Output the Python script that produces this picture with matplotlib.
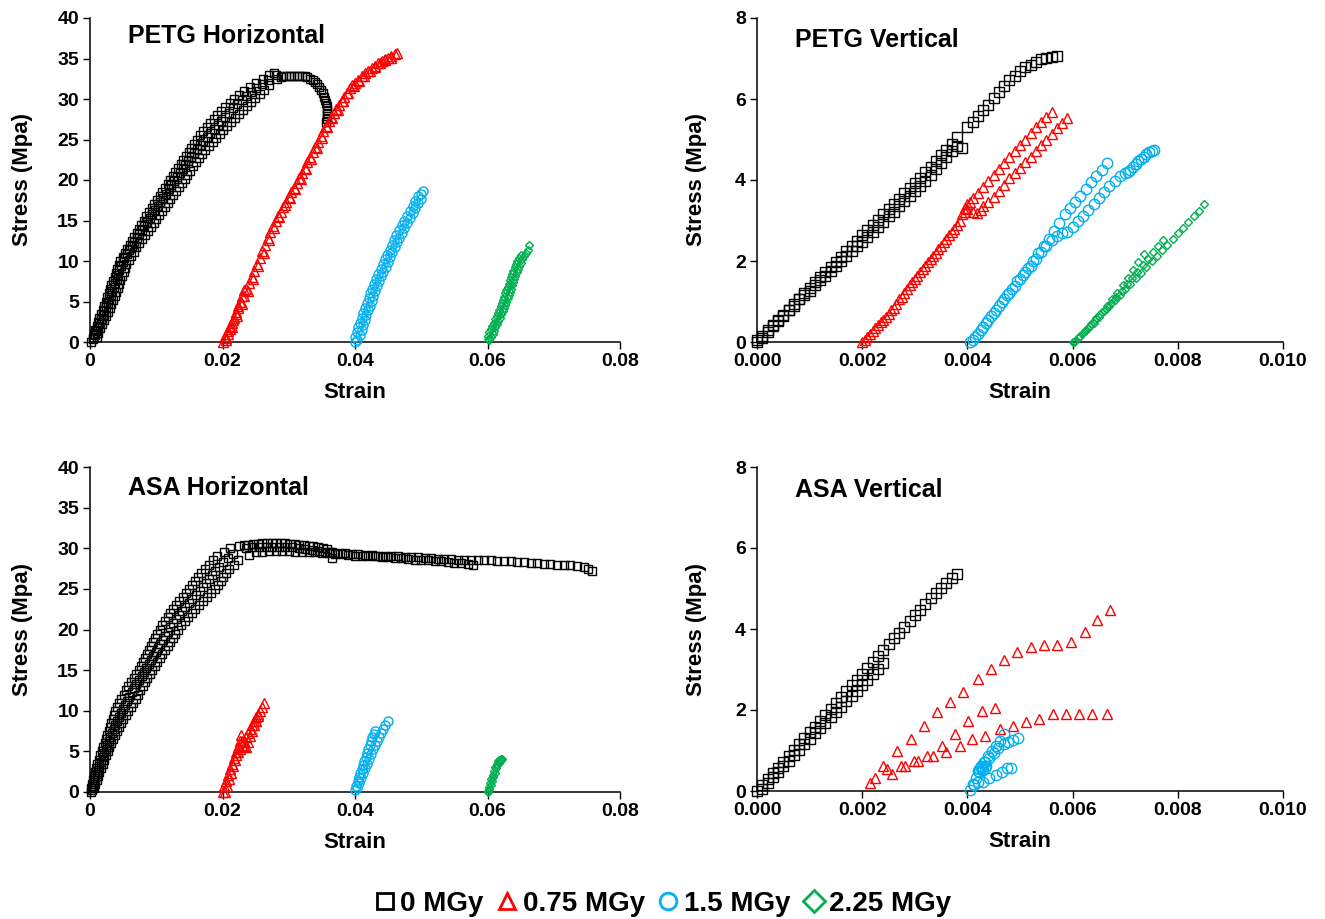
import matplotlib
matplotlib.use("Agg")
import matplotlib.pyplot as plt
from matplotlib.lines import Line2D

plt.rcParams['font.family'] = ['Liberation Sans', 'DejaVu Sans']

# ---------------- colours / legend labels ----------------
DOSE_LABELS = ['0 MGy', '0.75 MGy', '1.5 MGy', '2.25 MGy']
COLORS = ['#000000', '#FF0000', '#00B0F0', '#00B050']
MARKERS = ['s', '^', 'o', 'D']

# ================= PETG Horizontal =================
# 0 MGy (overlapping specimens / readings)
PH0A_X = [0.0002, 0.0006, 0.0010, 0.0014, 0.0019, 0.0024, 0.0028, 0.0032, 0.0037, 0.0041, 0.0046, 0.0053,
          0.0060, 0.0067, 0.0074, 0.0081, 0.0089, 0.0097, 0.0105, 0.0113, 0.0121, 0.0129, 0.0137, 0.0145,
          0.0153, 0.0162, 0.0171, 0.0181, 0.0192, 0.0204, 0.0218, 0.0233, 0.0251, 0.0270, 0.0277]
PH0A_Y = [0, 1, 2, 3, 4, 5, 6, 7, 8, 9, 10, 11,
          12, 13, 14, 15, 16, 17, 18, 19, 20, 21, 22, 23,
          24, 25, 26, 27, 28, 29, 30, 31, 32, 33, 33.2]
PH0A2_X = [0.0004, 0.0008, 0.0012, 0.00165, 0.00215, 0.0026, 0.0030, 0.00345, 0.0039, 0.00435, 0.00495,
           0.00565, 0.00635, 0.00705, 0.00775, 0.0085, 0.0093, 0.0101, 0.0109, 0.0117, 0.0125, 0.0133,
           0.0141, 0.0149, 0.01575, 0.01665, 0.0176, 0.01865, 0.0198, 0.0211, 0.02255, 0.0242, 0.02605]
PH0A2_Y = [0.5, 1.5, 2.5, 3.5, 4.5, 5.5, 6.5, 7.5, 8.5, 9.5, 10.5,
           11.5, 12.5, 13.5, 14.5, 15.5, 16.5, 17.5, 18.5, 19.5, 20.5, 21.5,
           22.5, 23.5, 24.5, 25.5, 26.5, 27.5, 28.5, 29.5, 30.5, 31.5, 32.5]
PH0M_X = [0.0005, 0.0009, 0.0014, 0.0019, 0.0024, 0.0029, 0.0033, 0.0038, 0.0042, 0.0047, 0.0052, 0.0059,
          0.0067, 0.0074, 0.0082, 0.0090, 0.0098, 0.0106, 0.0115, 0.0123, 0.0132, 0.0140, 0.0148, 0.0157,
          0.0166, 0.0176, 0.0187, 0.0198, 0.0210, 0.0222, 0.0236, 0.0251, 0.0268, 0.0280]
PH0M_Y = [0.33, 1.33, 2.33, 3.33, 4.33, 5.33, 6.33, 7.33, 8.33, 9.33, 10.33, 11.33,
          12.33, 13.33, 14.33, 15.33, 16.33, 17.33, 18.33, 19.33, 20.33, 21.33, 22.33, 23.33,
          24.33, 25.33, 26.33, 27.33, 28.33, 29.33, 30.33, 31.33, 32.33, 33.0]
PH0M2_X = [0.0007, 0.00115, 0.00165, 0.00215, 0.00265, 0.0031, 0.00355, 0.0040, 0.00445, 0.00495, 0.00555,
           0.0063, 0.00705, 0.0078, 0.0086, 0.0094, 0.0102, 0.01105, 0.0119, 0.01275, 0.0136, 0.0144,
           0.01525, 0.01615, 0.0171, 0.01815, 0.01925, 0.0204, 0.0216, 0.0229, 0.02435, 0.02595]
PH0M2_Y = [0.83, 1.83, 2.83, 3.83, 4.83, 5.83, 6.83, 7.83, 8.83, 9.83, 10.83,
           11.83, 12.83, 13.83, 14.83, 15.83, 16.83, 17.83, 18.83, 19.83, 20.83, 21.83,
           22.83, 23.83, 24.83, 25.83, 26.83, 27.83, 28.83, 29.83, 30.83, 31.83]
PH0B_X = [0.0010, 0.0015, 0.0021, 0.0027, 0.0032, 0.0037, 0.0042, 0.0046, 0.0051, 0.0055, 0.0062, 0.0070,
          0.0079, 0.0087, 0.0096, 0.0104, 0.0113, 0.0121, 0.0130, 0.0139, 0.0147, 0.0156, 0.0165, 0.0174,
          0.0185, 0.0196, 0.0207, 0.0219, 0.0231, 0.0243, 0.0256, 0.0270, 0.0283,
          0.0288, 0.0292, 0.0296, 0.0300, 0.0304, 0.0308, 0.0312, 0.0316, 0.0320, 0.0324, 0.0328, 0.0332,
          0.0336, 0.0340, 0.0343, 0.0346, 0.0349, 0.0351, 0.0353, 0.0355, 0.0356, 0.0357, 0.0358, 0.0358,
          0.0358, 0.0357, 0.0356]
PH0B_Y = [0.67, 1.67, 2.67, 3.67, 4.67, 5.67, 6.67, 7.67, 8.67, 9.67, 10.67, 11.67,
          12.67, 13.67, 14.67, 15.67, 16.67, 17.67, 18.67, 19.67, 20.67, 21.67, 22.67, 23.67,
          24.67, 25.67, 26.67, 27.67, 28.67, 29.67, 30.67, 31.67, 32.5,
          32.7, 32.8, 32.8, 32.9, 32.9, 32.9, 32.9, 32.9, 32.8, 32.8, 32.7, 32.5,
          32.3, 32.1, 31.8, 31.5, 31.1, 30.7, 30.3, 29.9, 29.5, 29.1, 28.7, 28.3,
          27.9, 27.5, 27.1]
PH0B2_X = [0.00125, 0.0018, 0.0024, 0.00295, 0.00345, 0.00395, 0.0044, 0.00485, 0.0053, 0.00585, 0.0066,
           0.00745, 0.0083, 0.00915, 0.0100, 0.01085, 0.0117, 0.01255, 0.01345, 0.0143, 0.01515, 0.01605,
           0.01695, 0.01795, 0.01905, 0.02015, 0.0213, 0.0225, 0.0237, 0.02495, 0.0263]
PH0B2_Y = [1.17, 2.17, 3.17, 4.17, 5.17, 6.17, 7.17, 8.17, 9.17, 10.17, 11.17,
           12.17, 13.17, 14.17, 15.17, 16.17, 17.17, 18.17, 19.17, 20.17, 21.17, 22.17,
           23.17, 24.17, 25.17, 26.17, 27.17, 28.17, 29.17, 30.17, 31.17]
# 0.75 MGy
PH1A_X = [0.0200, 0.0204, 0.0208, 0.0212, 0.0216, 0.0220, 0.0224, 0.0228, 0.0232, 0.0236, 0.0240, 0.0244,
          0.0248, 0.0252, 0.0256, 0.0260, 0.0264, 0.0268, 0.0272, 0.0276, 0.0280, 0.0284, 0.0288, 0.0292,
          0.0296, 0.0300, 0.0304, 0.0308, 0.0312, 0.0316, 0.0320, 0.0324, 0.0328, 0.0332, 0.0336, 0.0340,
          0.0344, 0.0348, 0.0352, 0.0356, 0.0360, 0.0364, 0.0368, 0.0372, 0.0376, 0.0380, 0.0384, 0.0388,
          0.0392, 0.0396, 0.0400, 0.0405, 0.0410, 0.0415, 0.0420, 0.0425, 0.0430, 0.0435, 0.0440, 0.0445,
          0.0450, 0.0455, 0.0460, 0.0464]
PH1A_Y = [0.0, 0.7, 1.4, 2.0, 2.7, 3.4, 4.2, 4.9, 5.7, 6.5, 7.3, 8.0,
          8.8, 9.6, 10.4, 11.2, 12.0, 12.8, 13.6, 14.3, 14.9, 15.5, 16.1, 16.7,
          17.3, 17.9, 18.5, 19.0, 19.6, 20.2, 20.9, 21.5, 22.2, 22.8, 23.4, 24.1,
          24.7, 25.4, 26.0, 26.7, 27.3, 27.8, 28.3, 28.8, 29.3, 29.8, 30.3, 30.8,
          31.3, 31.7, 32.0, 32.4, 32.8, 33.2, 33.5, 33.8, 34.1, 34.4, 34.7, 34.9,
          35.1, 35.3, 35.5, 35.7]
PH1B_X = [0.0206, 0.0214, 0.0222, 0.0230, 0.0238, 0.0246, 0.0254, 0.0262, 0.0270, 0.0278, 0.0286, 0.0294,
          0.0302, 0.0310, 0.0318, 0.0326, 0.0334, 0.0342, 0.0350, 0.0358, 0.0366, 0.0374, 0.0382, 0.0390,
          0.0398, 0.0406, 0.0414, 0.0422, 0.0430, 0.0438, 0.0446, 0.0454]
PH1B_Y = [0.5, 1.8, 3.2, 4.7, 6.3, 7.8, 9.4, 11.0, 12.6, 14.1, 15.4, 16.9,
          17.8, 18.9, 20.1, 21.3, 22.6, 23.9, 25.2, 26.5, 27.7, 28.7, 29.7, 30.7,
          31.6, 32.2, 32.9, 33.5, 33.9, 34.4, 34.8, 35.1]
PH1C_X = [0.0206, 0.0209, 0.0212, 0.0215, 0.0218, 0.0221, 0.0224, 0.0227, 0.0230, 0.0233]
PH1C_Y = [0.3, 1.0, 1.6, 2.3, 3.0, 3.7, 4.4, 5.0, 5.7, 6.4]
# 1.5 MGy
PH2A_X = [0.04000, 0.04026, 0.04052, 0.04076, 0.04100, 0.04124, 0.04149, 0.04177, 0.04205, 0.04232, 0.04261,
          0.04289, 0.04318, 0.04351, 0.04385, 0.04418, 0.04452, 0.04486, 0.04521, 0.04556, 0.04591, 0.04625,
          0.04660, 0.04703, 0.04746, 0.04789, 0.04830, 0.04870, 0.04910, 0.04950]
PH2A_Y = [0.6, 1.2, 1.8, 2.4, 3.0, 3.6, 4.2, 4.8, 5.4, 6.0, 6.6,
          7.2, 7.8, 8.4, 9.0, 9.6, 10.2, 10.8, 11.4, 12.0, 12.6, 13.2,
          13.8, 14.4, 15.0, 15.6, 16.2, 16.8, 17.4, 18.0]
PH2B_X = [0.0400, 0.0403, 0.04072, 0.04100, 0.04124, 0.04148, 0.04172, 0.04196, 0.04223, 0.04251, 0.04279,
          0.04307, 0.04335, 0.04363, 0.04395, 0.04428, 0.04461, 0.04494, 0.04529, 0.04564, 0.04598, 0.04633,
          0.04668, 0.04703, 0.04741, 0.04784, 0.04827, 0.04870, 0.04910, 0.04950, 0.04990, 0.0500, 0.0503]
PH2B_Y = [0.0, 0.3, 0.9, 1.5, 2.1, 2.7, 3.3, 3.9, 4.5, 5.1, 5.7,
          6.3, 6.9, 7.5, 8.1, 8.7, 9.3, 9.9, 10.5, 11.1, 11.7, 12.3,
          12.9, 13.5, 14.1, 14.7, 15.3, 15.9, 16.5, 17.1, 17.7, 18.3, 18.6]
# 2.25 MGy
PH3A_X = [0.0600, 0.0601, 0.0603, 0.0605, 0.0607, 0.06092, 0.06114, 0.06136, 0.06158, 0.0618, 0.06198,
          0.06216, 0.06234, 0.06252, 0.0627, 0.06286, 0.06302, 0.06318, 0.06334, 0.0635, 0.0637, 0.0639,
          0.0641, 0.0643, 0.0645, 0.06478, 0.06506]
PH3A_Y = [0.4, 0.8, 1.2, 1.6, 2.0, 2.4, 2.8, 3.2, 3.6, 4.0, 4.4,
          4.8, 5.2, 5.6, 6.0, 6.4, 6.8, 7.2, 7.6, 8.0, 8.4, 8.8,
          9.2, 9.6, 10.0, 10.4, 10.8]
PH3B_X = [0.0602, 0.0606, 0.0608, 0.0610, 0.0612, 0.06141, 0.06163, 0.06185, 0.06207, 0.06229, 0.06249,
          0.06267, 0.06285, 0.06303, 0.06321, 0.06338, 0.06354, 0.0637, 0.06386, 0.06402, 0.0642, 0.0644,
          0.0646, 0.0648, 0.0650, 0.06524, 0.06552, 0.0658, 0.06608, 0.0662]
PH3B_Y = [0.2, 0.6, 1.0, 1.4, 1.8, 2.2, 2.6, 3.0, 3.4, 3.8, 4.2,
          4.6, 5.0, 5.4, 5.8, 6.2, 6.6, 7.0, 7.4, 7.8, 8.2, 8.6,
          9.0, 9.4, 9.8, 10.2, 10.6, 11.0, 11.4, 12.0]

# ================= PETG Vertical =================
PV0A_X = [0.0000, 0.0001, 0.0002, 0.0003, 0.0004, 0.0005, 0.0006, 0.0007, 0.0008, 0.0009, 0.0010, 0.0011,
          0.0012, 0.0013, 0.0014, 0.0015, 0.0016, 0.0017, 0.0018, 0.0019, 0.0020, 0.0021, 0.0022, 0.0023,
          0.0024, 0.0025, 0.0026, 0.0027, 0.0028, 0.0029, 0.0030, 0.0031, 0.0032, 0.0033, 0.0034, 0.0035,
          0.0036, 0.0037, 0.0038, 0.0039]
PV0A_Y = [0.05, 0.15, 0.30, 0.42, 0.55, 0.65, 0.80, 0.90, 1.05, 1.15, 1.25, 1.40,
          1.52, 1.62, 1.75, 1.88, 2.00, 2.12, 2.25, 2.38, 2.48, 2.60, 2.72, 2.85,
          2.97, 3.10, 3.22, 3.35, 3.47, 3.60, 3.72, 3.85, 3.98, 4.12, 4.26, 4.42,
          4.58, 4.72, 4.83, 4.80]
PV0B_X = [0.0000, 0.0001, 0.0002, 0.0003, 0.0004, 0.0005, 0.0006, 0.0007, 0.0008, 0.0009, 0.0010, 0.0011,
          0.0012, 0.0013, 0.0014, 0.0015, 0.0016, 0.0017, 0.0018, 0.0019, 0.0020, 0.0021, 0.0022, 0.0023,
          0.0024, 0.0025, 0.0026, 0.0027, 0.0028, 0.0029, 0.0030, 0.0031, 0.0032, 0.0033, 0.0034, 0.0035,
          0.0036, 0.0037, 0.0038, 0.0040, 0.0041, 0.0042, 0.0043, 0.0044, 0.0045, 0.0046, 0.0047, 0.0048,
          0.0049, 0.0050, 0.0051, 0.0052, 0.0053, 0.0054, 0.0055, 0.0056, 0.0057]
PV0B_Y = [0.00, 0.10, 0.25, 0.40, 0.52, 0.66, 0.80, 0.93, 1.07, 1.20, 1.34, 1.47,
          1.60, 1.72, 1.85, 1.98, 2.11, 2.24, 2.37, 2.50, 2.63, 2.76, 2.89, 3.02,
          3.15, 3.28, 3.41, 3.54, 3.67, 3.80, 3.93, 4.06, 4.19, 4.33, 4.47, 4.61,
          4.75, 4.90, 5.05, 5.31, 5.44, 5.58, 5.72, 5.86, 6.02, 6.17, 6.33, 6.46,
          6.58, 6.68, 6.78, 6.85, 6.92, 6.98, 7.02, 7.04, 7.05]
PV1A_X = [0.00200, 0.00210, 0.00220, 0.00230, 0.00240, 0.00250, 0.00260, 0.00270, 0.00280, 0.00290,
          0.00300, 0.00310, 0.00320, 0.00330, 0.00340, 0.00350, 0.00360, 0.00370, 0.00380, 0.00390,
          0.00395, 0.00400, 0.00405, 0.00410, 0.00420, 0.00430, 0.00440, 0.00450, 0.00460, 0.00470,
          0.00480, 0.00490, 0.00500, 0.00510, 0.00520, 0.00530, 0.00540, 0.00550, 0.00560]
PV1A_Y = [0.00, 0.12, 0.28, 0.42, 0.55, 0.68, 0.85, 1.05, 1.22, 1.40,
          1.55, 1.72, 1.88, 2.05, 2.20, 2.38, 2.55, 2.72, 2.90, 3.15,
          3.30, 3.40, 3.45, 3.55, 3.68, 3.82, 3.98, 4.12, 4.27, 4.42,
          4.56, 4.72, 4.86, 5.00, 5.15, 5.30, 5.43, 5.55, 5.68]
PV1B_X = [0.00205, 0.00215, 0.00225, 0.00235, 0.00245, 0.00255, 0.00265, 0.00275, 0.00285, 0.00295,
          0.00305, 0.00315, 0.00325, 0.00335, 0.00345, 0.00355, 0.00365, 0.00375, 0.00385, 0.00395,
          0.00400, 0.00410, 0.00418, 0.00425, 0.00430, 0.00440, 0.00450, 0.00460, 0.00470, 0.00480,
          0.00490, 0.00500, 0.00510, 0.00520, 0.00530, 0.00540, 0.00550, 0.00560, 0.00570, 0.00580,
          0.00590]
PV1B_Y = [0.05, 0.20, 0.35, 0.50, 0.62, 0.78, 0.95, 1.12, 1.30, 1.48,
          1.64, 1.80, 1.97, 2.12, 2.30, 2.47, 2.63, 2.80, 2.98, 3.20,
          3.28, 3.22, 3.18, 3.25, 3.35, 3.45, 3.58, 3.72, 3.88, 4.04,
          4.18, 4.30, 4.44, 4.58, 4.72, 4.86, 5.00, 5.14, 5.28, 5.40,
          5.53]
PV2A_X = [0.00405, 0.00415, 0.00425, 0.00435, 0.00445, 0.00455, 0.00465, 0.00475, 0.00485, 0.00495,
          0.00505, 0.00515, 0.00525, 0.00535, 0.00545, 0.00555, 0.00565, 0.00575, 0.00585, 0.00595,
          0.00605, 0.00615, 0.00625, 0.00635, 0.00645, 0.00655, 0.00665]
PV2A_Y = [0.00, 0.12, 0.30, 0.48, 0.65, 0.80, 0.98, 1.15, 1.32, 1.50,
          1.65, 1.82, 2.00, 2.20, 2.38, 2.55, 2.75, 2.95, 3.15, 3.32,
          3.45, 3.60, 3.78, 3.95, 4.10, 4.25, 4.42]
PV2B_X = [0.00410, 0.00420, 0.00430, 0.00440, 0.00450, 0.00460, 0.00470, 0.00480, 0.00490, 0.00500,
          0.00510, 0.00520, 0.00530, 0.00540, 0.00550, 0.00560, 0.00570, 0.00580, 0.00590, 0.00600,
          0.00610, 0.00620, 0.00630, 0.00640, 0.00650, 0.00660, 0.00670, 0.00680, 0.00690, 0.00700,
          0.00705, 0.00710, 0.00715, 0.00720, 0.00725, 0.00730, 0.00735, 0.00740, 0.00745, 0.00750,
          0.00754]
PV2B_Y = [0.05, 0.20, 0.38, 0.55, 0.72, 0.88, 1.05, 1.22, 1.38, 1.55,
          1.72, 1.88, 2.05, 2.22, 2.38, 2.52, 2.62, 2.68, 2.72, 2.85,
          2.98, 3.10, 3.25, 3.40, 3.55, 3.70, 3.85, 3.98, 4.10, 4.17,
          4.20, 4.25, 4.32, 4.40, 4.46, 4.52, 4.58, 4.63, 4.68, 4.72,
          4.74]
PV3A_X = [0.00600, 0.00610, 0.00620, 0.00630, 0.00640, 0.00650, 0.00660, 0.00670, 0.00680, 0.00690,
          0.00700, 0.00710, 0.00720, 0.00730, 0.00740, 0.00750, 0.00760, 0.00770, 0.00780, 0.00790,
          0.00800, 0.00810, 0.00820, 0.00830, 0.00840, 0.00850]
PV3A_Y = [0.00, 0.10, 0.22, 0.35, 0.48, 0.62, 0.76, 0.90, 1.03, 1.17,
          1.30, 1.43, 1.57, 1.71, 1.85, 1.99, 2.12, 2.26, 2.40, 2.54,
          2.68, 2.82, 2.96, 3.10, 3.24, 3.40]
PV3B_X = [0.00605, 0.00615, 0.00625, 0.00635, 0.00645, 0.00655, 0.00665, 0.00675, 0.00685, 0.00695,
          0.00705, 0.00715, 0.00725, 0.00735]
PV3B_Y = [0.02, 0.15, 0.30, 0.45, 0.60, 0.75, 0.90, 1.06, 1.22, 1.40,
          1.58, 1.78, 1.98, 2.18]
PV3C_X = [0.00603, 0.00613, 0.00623, 0.00633, 0.00643, 0.00653, 0.00663, 0.00673, 0.00683, 0.00693,
          0.00703, 0.00713, 0.00723, 0.00733, 0.00743, 0.00753, 0.00763, 0.00772]
PV3C_Y = [0.00, 0.12, 0.26, 0.40, 0.54, 0.68, 0.82, 0.97, 1.12, 1.27,
          1.42, 1.58, 1.74, 1.90, 2.06, 2.22, 2.38, 2.52]

# ================= ASA Horizontal =================
AH0A_X = [0.0001, 0.0003, 0.0006, 0.0009, 0.0013, 0.0018, 0.0022, 0.0026, 0.0030, 0.0034, 0.0038, 0.0044,
          0.0051, 0.0058, 0.0066, 0.0074, 0.0080, 0.0086, 0.0092, 0.0098, 0.0105, 0.0113, 0.0121, 0.0130,
          0.0140, 0.0150, 0.0159, 0.0167, 0.0179, 0.0192, 0.0212,
          0.0225, 0.0232, 0.0239, 0.0246, 0.0253, 0.0260, 0.0267, 0.0274, 0.0281, 0.0288, 0.0295, 0.0302,
          0.0309, 0.0316, 0.0323, 0.0330, 0.0337, 0.0344, 0.0351, 0.0357, 0.0362, 0.0365]
AH0A_Y = [0, 1, 2, 3, 4, 5, 6, 7, 8, 9, 10, 11,
          12, 13, 14, 15, 16, 17, 18, 19, 20, 21, 22, 23,
          24, 25, 26, 27, 28, 29, 30,
          30.3, 30.4, 30.45, 30.5, 30.55, 30.6, 30.6, 30.65, 30.65, 30.6, 30.6, 30.55,
          30.5, 30.45, 30.4, 30.3, 30.25, 30.15, 30.0, 29.85, 29.6, 28.8]
AH0A2_X = [0.0002, 0.00045, 0.00075, 0.0011, 0.00155, 0.0020, 0.0024, 0.0028, 0.0032, 0.0036, 0.0041,
           0.00475, 0.00545, 0.0062, 0.0070, 0.0077, 0.0083, 0.0089, 0.0095, 0.01015, 0.0109, 0.0117,
           0.01255, 0.0135, 0.0145, 0.01545, 0.0163, 0.0173, 0.01855, 0.0202]
AH0A2_Y = [0.5, 1.5, 2.5, 3.5, 4.5, 5.5, 6.5, 7.5, 8.5, 9.5, 10.5,
           11.5, 12.5, 13.5, 14.5, 15.5, 16.5, 17.5, 18.5, 19.5, 20.5, 21.5,
           22.5, 23.5, 24.5, 25.5, 26.5, 27.5, 28.5, 29.5]
AH0B_X = [0.0006, 0.0010, 0.0014, 0.0019, 0.0024, 0.0029, 0.0034, 0.0040, 0.0047, 0.0054, 0.0062, 0.0069,
          0.0076, 0.0083, 0.0090, 0.0098, 0.0105, 0.0113, 0.0121, 0.0129, 0.0138, 0.0148, 0.0159, 0.0170,
          0.0183, 0.0193, 0.0201, 0.0210, 0.0224, 0.0240,
          0.0250, 0.0260, 0.0270, 0.0280, 0.0290, 0.0300, 0.0310, 0.0320, 0.0330, 0.0340, 0.0350, 0.0360,
          0.0370, 0.0380, 0.0390, 0.0400, 0.0410, 0.0420, 0.0430, 0.0440, 0.0450, 0.0460, 0.0470, 0.0480,
          0.0490, 0.0500, 0.0510, 0.0520, 0.0530, 0.0540, 0.0550, 0.0560, 0.0570, 0.0578]
AH0B_Y = [0.5, 1.5, 2.5, 3.5, 4.5, 5.5, 6.5, 7.5, 8.5, 9.5, 10.5, 11.5,
          12.5, 13.5, 14.5, 15.5, 16.5, 17.5, 18.5, 19.5, 20.5, 21.5, 22.5, 23.5,
          24.5, 25.5, 26.5, 27.5, 28.5, 29.2,
          29.5, 29.6, 29.7, 29.7, 29.7, 29.7, 29.6, 29.6, 29.5, 29.5, 29.4, 29.4,
          29.3, 29.3, 29.2, 29.1, 29.1, 29.0, 29.0, 28.9, 28.9, 28.8, 28.8, 28.7,
          28.6, 28.6, 28.5, 28.4, 28.4, 28.3, 28.2, 28.2, 28.1, 27.9]
AH0B2_X = [0.0008, 0.0012, 0.00165, 0.00215, 0.00265, 0.00315, 0.0037, 0.00435, 0.00505, 0.0058, 0.00655,
           0.00725, 0.00795, 0.00865, 0.0094, 0.01015, 0.0109, 0.0117, 0.0125, 0.01335, 0.0143, 0.01535,
           0.01645, 0.01765, 0.0188, 0.0197, 0.02055, 0.0217]
AH0B2_Y = [1, 2, 3, 4, 5, 6, 7, 8, 9, 10, 11,
           12, 13, 14, 15, 16, 17, 18, 19, 20, 21, 22,
           23, 24, 25, 26, 27, 28]
AH0C_X = [0.0003, 0.0006, 0.0010, 0.0014, 0.0019, 0.0024, 0.0028, 0.0033, 0.0038, 0.0044, 0.0050, 0.0056,
          0.0063, 0.0070, 0.0078, 0.0085, 0.0092, 0.0099, 0.0106, 0.0113, 0.0121, 0.0130, 0.0139, 0.0149,
          0.0160, 0.0171, 0.0180, 0.0189, 0.0201, 0.0216, 0.0235,
          0.0245, 0.0255, 0.0265, 0.0275, 0.0285, 0.0295, 0.0305, 0.0315, 0.0325, 0.0335, 0.0345, 0.0355,
          0.0365, 0.0375, 0.0385, 0.0395, 0.0405, 0.0415, 0.0425, 0.0435, 0.0445, 0.0455, 0.0465, 0.0475,
          0.0485, 0.0495, 0.0505, 0.0515, 0.0525, 0.0535, 0.0545, 0.0555, 0.0565, 0.0575, 0.0585, 0.0595,
          0.0605, 0.0615, 0.0625, 0.0635, 0.0645, 0.0655, 0.0665, 0.0675, 0.0685, 0.0695, 0.0705, 0.0715,
          0.0725, 0.0735, 0.0745, 0.0752, 0.0757]
AH0C_Y = [0.25, 1.25, 2.25, 3.25, 4.25, 5.25, 6.25, 7.25, 8.25, 9.25, 10.25, 11.25,
          12.25, 13.25, 14.25, 15.25, 16.25, 17.25, 18.25, 19.25, 20.25, 21.25, 22.25, 23.25,
          24.25, 25.25, 26.25, 27.25, 28.25, 29.25, 30.0,
          30.1, 30.2, 30.2, 30.2, 30.2, 30.1, 30.1, 30.0, 29.9, 29.8, 29.7, 29.6,
          29.5, 29.4, 29.4, 29.3, 29.3, 29.2, 29.2, 29.1, 29.1, 29.0, 29.0, 28.9,
          28.9, 28.9, 28.8, 28.8, 28.7, 28.7, 28.7, 28.6, 28.6, 28.6, 28.5, 28.5,
          28.5, 28.4, 28.4, 28.4, 28.3, 28.3, 28.2, 28.2, 28.1, 28.1, 28.0, 28.0,
          27.9, 27.8, 27.7, 27.5, 27.2]
AH0C2_X = [0.00045, 0.0008, 0.0012, 0.00165, 0.00215, 0.0026, 0.00305, 0.00355, 0.0041, 0.0047, 0.0053,
           0.00595, 0.00665, 0.0074, 0.00815, 0.00885, 0.00955, 0.01025, 0.01095, 0.0117, 0.01255, 0.01345,
           0.0144, 0.01545, 0.01655, 0.01755, 0.01845, 0.0195, 0.02085]
AH0C2_Y = [0.75, 1.75, 2.75, 3.75, 4.75, 5.75, 6.75, 7.75, 8.75, 9.75, 10.75,
           11.75, 12.75, 13.75, 14.75, 15.75, 16.75, 17.75, 18.75, 19.75, 20.75, 21.75,
           22.75, 23.75, 24.75, 25.75, 26.75, 27.75, 28.75]
AH1A_X = [0.0200, 0.0203, 0.0206, 0.0209, 0.0212, 0.0215, 0.0218, 0.0221, 0.0224, 0.0226, 0.0228, 0.0230,
          0.0232, 0.0235, 0.0238, 0.0241, 0.0244, 0.0247, 0.0250, 0.0253, 0.0256, 0.0259, 0.0262]
AH1A_Y = [0.0, 0.7, 1.4, 2.1, 2.8, 3.5, 4.2, 4.9, 5.6, 6.3, 7.0, 6.3,
          5.7, 5.5, 6.2, 6.9, 7.5, 8.2, 8.8, 9.4, 10.0, 10.5, 11.0]
AH1B_X = [0.0204, 0.0207, 0.0210, 0.0213, 0.0216, 0.0219, 0.0221, 0.0224, 0.0227, 0.0230, 0.0233, 0.0236,
          0.0239, 0.0242, 0.0245, 0.0248, 0.0251, 0.0254]
AH1B_Y = [0.0, 0.8, 1.6, 2.4, 3.2, 4.0, 4.6, 4.9, 5.3, 5.8, 6.3, 6.8,
          7.3, 7.8, 8.3, 8.8, 9.2, 9.6]
AH2A_X = [0.0400, 0.0402, 0.0404, 0.0406, 0.0408, 0.0410, 0.0412, 0.0414, 0.0416, 0.0418, 0.0420, 0.0422,
          0.0424, 0.0426, 0.0428, 0.0430]
AH2A_Y = [0.3, 0.8, 1.3, 1.8, 2.3, 2.8, 3.3, 3.8, 4.3, 4.8, 5.3, 5.8,
          6.3, 6.8, 7.2, 7.5]
AH2B_X = [0.0403, 0.0406, 0.0409, 0.0412, 0.0415, 0.0418, 0.0421, 0.0424, 0.0427, 0.0430, 0.0433, 0.0436,
          0.0439, 0.0442, 0.0446, 0.0450]
AH2B_Y = [0.5, 1.1, 1.7, 2.3, 2.9, 3.5, 4.1, 4.7, 5.3, 5.8, 6.3, 6.8,
          7.3, 7.8, 8.3, 8.8]
AH3A_X = [0.0600, 0.0602, 0.0604, 0.0606, 0.0608, 0.0610, 0.0612, 0.0614, 0.0616, 0.0618, 0.0620]
AH3A_Y = [0.1, 0.6, 1.1, 1.6, 2.1, 2.6, 3.1, 3.5, 3.8, 4.0, 4.1]
AH3B_X = [0.0601, 0.0603, 0.0605, 0.0607, 0.0609, 0.0611, 0.0613, 0.0615, 0.0617, 0.0619, 0.0621, 0.0622]
AH3B_Y = [0.0, 0.4, 0.9, 1.4, 1.9, 2.4, 2.9, 3.3, 3.6, 3.8, 4.0, 4.1]

# ================= ASA Vertical =================
AV0A_X = [0.0000, 0.0001, 0.0002, 0.0003, 0.0004, 0.0005, 0.0006, 0.0007, 0.0008, 0.0009, 0.0010, 0.0011,
          0.0012, 0.0013, 0.0014, 0.0015, 0.0016, 0.0017, 0.0018, 0.0019, 0.0020, 0.0021, 0.0022, 0.0023,
          0.0024, 0.0025, 0.0026, 0.0027, 0.0028, 0.0029, 0.0030, 0.0031, 0.0032, 0.0033, 0.0034, 0.0035,
          0.0036, 0.0037, 0.0038]
AV0A_Y = [0.00, 0.15, 0.30, 0.44, 0.58, 0.72, 0.87, 1.01, 1.16, 1.30, 1.45, 1.59,
          1.74, 1.88, 2.03, 2.17, 2.32, 2.46, 2.61, 2.75, 2.90, 3.04, 3.19, 3.33,
          3.48, 3.62, 3.77, 3.91, 4.06, 4.20, 4.34, 4.48, 4.62, 4.76, 4.89, 5.02,
          5.14, 5.25, 5.35]
AV0B_X = [0.0001, 0.0002, 0.0003, 0.0004, 0.0005, 0.0006, 0.0007, 0.0008, 0.0009, 0.0010, 0.0011, 0.0012,
          0.0013, 0.0014, 0.0015, 0.0016, 0.0017, 0.0018, 0.0019, 0.0020, 0.0021, 0.0022, 0.0023, 0.0024]
AV0B_Y = [0.05, 0.20, 0.35, 0.48, 0.62, 0.75, 0.88, 1.02, 1.15, 1.28, 1.42, 1.55,
          1.68, 1.82, 1.95, 2.08, 2.22, 2.35, 2.48, 2.62, 2.75, 2.88, 3.02, 3.15]
AV1A_X = [0.00215, 0.00225, 0.00239, 0.00267, 0.00292, 0.00317, 0.00342, 0.00367, 0.00392, 0.00420,
          0.00445, 0.00470, 0.00495, 0.00520, 0.00545, 0.00570, 0.00597, 0.00623, 0.00647, 0.00672]
AV1A_Y = [0.20, 0.31, 0.62, 0.99, 1.28, 1.60, 1.96, 2.19, 2.45, 2.77,
          3.01, 3.24, 3.44, 3.55, 3.60, 3.60, 3.67, 3.92, 4.22, 4.47]
AV1B_X = [0.00256, 0.00282, 0.00306, 0.00335, 0.00360, 0.00385, 0.00409, 0.00434, 0.00462, 0.00487,
          0.00512, 0.00537, 0.00563, 0.00587, 0.00612, 0.00637, 0.00665]
AV1B_Y = [0.42, 0.62, 0.75, 0.87, 0.97, 1.12, 1.28, 1.37, 1.53, 1.60,
          1.71, 1.78, 1.89, 1.89, 1.89, 1.89, 1.89]
AV1C_X = [0.00248, 0.00273, 0.00298, 0.00324, 0.00352, 0.00377, 0.00402, 0.00427, 0.00452]
AV1C_Y = [0.54, 0.62, 0.75, 0.87, 1.12, 1.41, 1.72, 1.97, 2.04]
AV2A_X = [0.00404, 0.00410, 0.00417, 0.00422, 0.00426, 0.00433, 0.00441, 0.00450, 0.00459, 0.00469,
          0.00478, 0.00487, 0.00496]
AV2A_Y = [0.03, 0.17, 0.31, 0.46, 0.58, 0.71, 0.82, 0.94, 1.05, 1.15,
          1.22, 1.27, 1.30]
AV2B_X = [0.00425, 0.00431, 0.00439, 0.00446, 0.00455, 0.00462, 0.00469]
AV2B_Y = [0.62, 0.72, 0.87, 1.00, 1.12, 1.24, 1.41]
AV2C_X = [0.00412, 0.00421, 0.00429, 0.00442, 0.00455, 0.00465, 0.00475, 0.00483]
AV2C_Y = [0.15, 0.23, 0.23, 0.31, 0.40, 0.48, 0.56, 0.58]
AV2D_X = [0.00420, 0.00423, 0.00427, 0.00430, 0.00433, 0.00436]
AV2D_Y = [0.50, 0.55, 0.60, 0.52, 0.58, 0.62]

W, H = 1325, 919
fig = plt.figure(figsize=(W / 100, H / 100), dpi=100)


def box(l, t, r, b):
    return [l / W, 1 - b / H, (r - l) / W, (b - t) / H]


ax_ph = fig.add_axes(box(90, 18, 620, 342))
ax_pv = fig.add_axes(box(757, 18, 1283, 342))
ax_ah = fig.add_axes(box(90, 467, 620, 792))
ax_av = fig.add_axes(box(757, 467, 1283, 791))


def series(ax, x, y, k, ms, mew=1.0):
    ax.plot(x, y, ls='none', marker=MARKERS[k], ms=ms, mfc='none', mec=COLORS[k],
            mew=mew, clip_on=False, zorder=3)


# PETG horizontal
for xs, ys in [(PH0A_X, PH0A_Y), (PH0A2_X, PH0A2_Y), (PH0M_X, PH0M_Y), (PH0M2_X, PH0M2_Y),
               (PH0B_X, PH0B_Y), (PH0B2_X, PH0B2_Y)]:
    series(ax_ph, xs, ys, 0, 6)
for xs, ys in [(PH1A_X, PH1A_Y), (PH1B_X, PH1B_Y), (PH1C_X, PH1C_Y)]:
    series(ax_ph, xs, ys, 1, 6.5)
for xs, ys in [(PH2A_X, PH2A_Y), (PH2B_X, PH2B_Y)]:
    series(ax_ph, xs, ys, 2, 6.5)
for xs, ys in [(PH3A_X, PH3A_Y), (PH3B_X, PH3B_Y)]:
    series(ax_ph, xs, ys, 3, 4.2)

# PETG vertical
for xs, ys in [(PV0A_X, PV0A_Y), (PV0B_X, PV0B_Y)]:
    series(ax_pv, xs, ys, 0, 7.5)
for xs, ys in [(PV1A_X, PV1A_Y), (PV1B_X, PV1B_Y)]:
    series(ax_pv, xs, ys, 1, 7.5)
for xs, ys in [(PV2A_X, PV2A_Y), (PV2B_X, PV2B_Y)]:
    series(ax_pv, xs, ys, 2, 7.5)
for xs, ys in [(PV3A_X, PV3A_Y), (PV3B_X, PV3B_Y), (PV3C_X, PV3C_Y)]:
    series(ax_pv, xs, ys, 3, 4.5)

# ASA horizontal
for xs, ys in [(AH0A_X, AH0A_Y), (AH0A2_X, AH0A2_Y), (AH0B_X, AH0B_Y), (AH0B2_X, AH0B2_Y),
               (AH0C_X, AH0C_Y), (AH0C2_X, AH0C2_Y)]:
    series(ax_ah, xs, ys, 0, 6)
for xs, ys in [(AH1A_X, AH1A_Y), (AH1B_X, AH1B_Y)]:
    series(ax_ah, xs, ys, 1, 6.5)
for xs, ys in [(AH2A_X, AH2A_Y), (AH2B_X, AH2B_Y)]:
    series(ax_ah, xs, ys, 2, 6.5)
for xs, ys in [(AH3A_X, AH3A_Y), (AH3B_X, AH3B_Y)]:
    series(ax_ah, xs, ys, 3, 4.2)

# ASA vertical
for xs, ys in [(AV0A_X, AV0A_Y), (AV0B_X, AV0B_Y)]:
    series(ax_av, xs, ys, 0, 7.5)
for xs, ys in [(AV1A_X, AV1A_Y), (AV1B_X, AV1B_Y), (AV1C_X, AV1C_Y)]:
    series(ax_av, xs, ys, 1, 7.5)
for xs, ys in [(AV2A_X, AV2A_Y), (AV2B_X, AV2B_Y), (AV2C_X, AV2C_Y), (AV2D_X, AV2D_Y)]:
    series(ax_av, xs, ys, 2, 7.5)

H_XTICKS = [0, 0.02, 0.04, 0.06, 0.08]
H_XLABELS = ['0', '0.02', '0.04', '0.06', '0.08']
H_YTICKS = [0, 5, 10, 15, 20, 25, 30, 35, 40]
V_XTICKS = [0, 0.002, 0.004, 0.006, 0.008, 0.010]
V_XLABELS = ['0.000', '0.002', '0.004', '0.006', '0.008', '0.010']
V_YTICKS = [0, 2, 4, 6, 8]


def style(ax, xticks, xlabels, yticks, title, ty, ylx):
    ax.set_xlim(xticks[0], xticks[-1])
    ax.set_ylim(yticks[0], yticks[-1])
    for s in ('top', 'right'):
        ax.spines[s].set_visible(False)
    for s in ('left', 'bottom'):
        ax.spines[s].set_linewidth(1.1)
        ax.spines[s].set_color('black')
    ax.set_xticks(xticks)
    ax.set_xticklabels(xlabels)
    ax.set_yticks(yticks)
    ax.set_yticklabels([str(v) for v in yticks])
    ax.tick_params(direction='out', length=5, width=1.0, labelsize=14, pad=3, colors='black')
    for lab in ax.get_xticklabels() + ax.get_yticklabels():
        lab.set_fontweight('bold')
    ax.set_xlabel('Strain', fontsize=16, fontweight='bold')
    ax.set_ylabel('Stress (Mpa)', fontsize=16, fontweight='bold')
    ax.xaxis.set_label_coords(0.5, -0.123)
    ax.yaxis.set_label_coords(ylx, 0.5)
    ax.text(0.072, ty, title, transform=ax.transAxes, fontsize=18, fontweight='bold',
            ha='left', va='center')
    ax.patch.set_alpha(0)


style(ax_ph, H_XTICKS, H_XLABELS, H_YTICKS, 'PETG Horizontal', 0.944, -0.108)
style(ax_pv, V_XTICKS, V_XLABELS, V_YTICKS, 'PETG Vertical', 0.932, -0.096)
style(ax_ah, H_XTICKS, H_XLABELS, H_YTICKS, 'ASA Horizontal', 0.935, -0.108)
style(ax_av, V_XTICKS, V_XLABELS, V_YTICKS, 'ASA Vertical', 0.929, -0.096)

handles = [Line2D([], [], ls='none', marker=MARKERS[k], ms=12 if k < 3 else 11, mfc='none',
                  mec=COLORS[k], mew=2) for k in range(4)]
fig.legend(handles, DOSE_LABELS, loc='center', bbox_to_anchor=(0.5, 1 - 904 / H), ncol=4,
           frameon=False, prop=dict(size=20, weight='bold'), handlelength=0.8,
           handletextpad=0.15, columnspacing=0.45, borderaxespad=0)

fig.savefig('out.png', dpi=100)
